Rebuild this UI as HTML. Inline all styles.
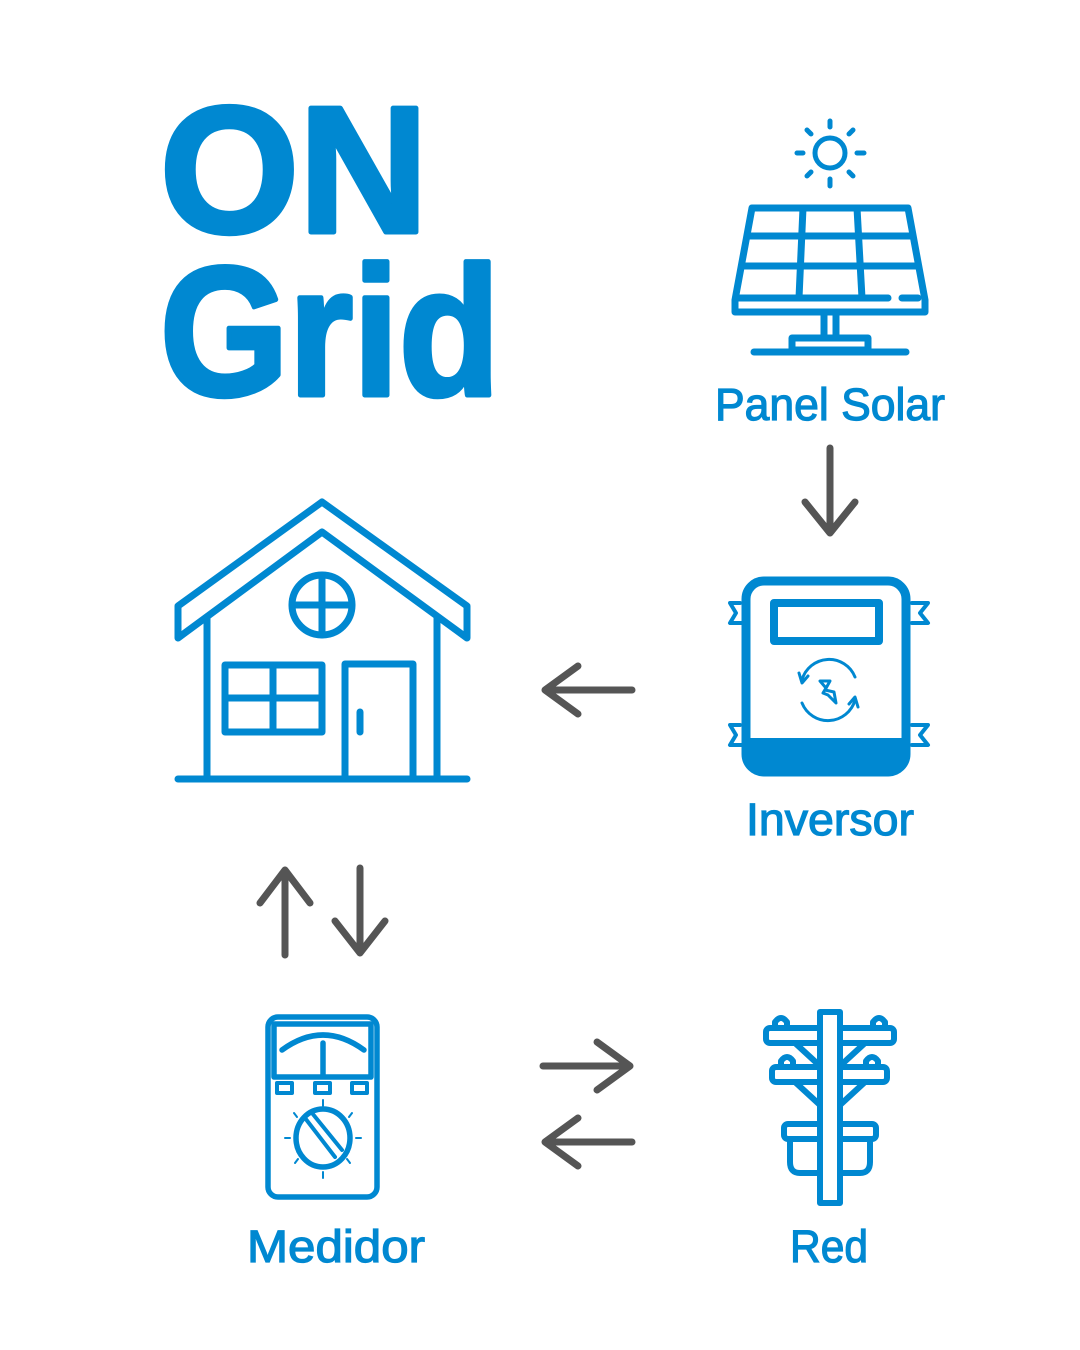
<!DOCTYPE html>
<html><head><style>body{margin:0;background:#fff}svg{display:block}</style></head><body>
<svg width="1080" height="1350" viewBox="0 0 1080 1350" xmlns="http://www.w3.org/2000/svg">
<g font-family="Liberation Sans, sans-serif" font-weight="bold" fill="#0088d1">
<g stroke="#0088d1" stroke-width="5" stroke-linejoin="round">
<text x="160" y="232" font-size="180" textLength="268" lengthAdjust="spacingAndGlyphs">ON</text>
<text x="160" y="395" font-size="184" textLength="340" lengthAdjust="spacingAndGlyphs">Grid</text>
</g>
<g font-weight="normal" font-size="45" stroke="#0088d1" stroke-width="1.2">
<text x="830" y="420" text-anchor="middle" textLength="230" lengthAdjust="spacingAndGlyphs">Panel Solar</text>
<text x="830" y="835" text-anchor="middle" textLength="168" lengthAdjust="spacingAndGlyphs">Inversor</text>
<text x="336" y="1262" text-anchor="middle" textLength="178" lengthAdjust="spacingAndGlyphs">Medidor</text>
<text x="829" y="1262" text-anchor="middle" textLength="78" lengthAdjust="spacingAndGlyphs">Red</text>
</g></g>
<g fill="none" stroke="#555" stroke-width="7" stroke-linecap="round" stroke-linejoin="round">
<path d="M830 448V533M805 502L830 533L855 502"/>
<path d="M632 690H545M578 666L545 690L578 714"/>
<path d="M285 955V870M260 903L285 870L310 903"/>
<path d="M360 868V953M335 921L360 953L385 921"/>
<path d="M543 1066H630M597 1042L630 1066L597 1090"/>
<path d="M632 1142H545M578 1118L545 1142L578 1166"/>
</g>
<g fill="none" stroke="#0088d1" stroke-linecap="round" stroke-linejoin="round">
<g stroke-width="7">
<path d="M178 606L322 502L467 606V638L322 532L178 638Z"/>
<path d="M207 617V778M437 617V778M178 779H467"/>
<circle cx="322" cy="605" r="30"/><path d="M322 575V635M292 605H352"/>
<rect x="225" y="665" width="97" height="67"/><path d="M273 665V732M225 698H322"/>
<path d="M345 778V664H413V778"/><path d="M360 712V732" stroke-width="7"/>
</g>
<g stroke-width="5">
<circle cx="830" cy="153" r="15"/>
<path d="M830 121V127M830 179V186M797 153H803M857 153H864M807 130L811 134M849 172L853 176M853 130L849 134M811 172L807 176"/>
</g>
<g stroke-width="7">
<path d="M752 208H908L925 300V312H735V300Z"/>
<path d="M738 298H888M902 298H918"/>
<path d="M748 236H912M743 266H917M803 208L799 298M857 208L862 298"/>
<path d="M824 312V338M836 312V338"/>
<rect x="792" y="338" width="76" height="12"/>
<path d="M754 352H906"/>
</g>
<rect x="746" y="581" width="160" height="191" rx="18" stroke-width="9"/>
<path d="M746 740H906V755Q906 772 888 772H764Q746 772 746 755Z" fill="#0088d1" stroke-width="4"/>
<rect x="774" y="603" width="105" height="38" stroke-width="8"/>
<path d="M740 603L730 603L736 613L730 623L742 623M912 603L928 603L920 613L928 623L912 623M740 725L730 725L736 735L730 745L742 745M912 725L928 725L920 735L928 745L912 745" stroke-width="4"/>
<g stroke-width="3"><path d="M802 680A28 28 0 0 1 855 677M855 700A28 28 0 0 1 802 703"/>
<path d="M799 673L802 683L808 676M858 707L855 697L849 704"/>
<path d="M820 681H830L825 690L834 692L836 703L828 695L823 693L826 688Z"/></g>
<g stroke-width="5.5">
<rect x="268" y="1017" width="109" height="180" rx="10"/>
<rect x="274" y="1024" width="97" height="53"/>
<path d="M282 1050Q323 1020 364 1050M323 1043V1075"/>
<rect x="277" y="1083" width="15" height="10" stroke-width="4"/><rect x="315" y="1083" width="15" height="10" stroke-width="4"/><rect x="352" y="1083" width="15" height="10" stroke-width="4"/>
<ellipse cx="323" cy="1138" rx="27" ry="29"/>
<path d="M305 1118L335 1157M312 1113L342 1150" stroke-width="4"/>
<path d="M323 1100V1106M323 1172V1178M285 1138H290M356 1138H361M294 1113L297 1117M352 1113L349 1117M295 1163L298 1159M350 1163L347 1159" stroke-width="2"/>
</g>
<g stroke-width="6">
<path d="M775 1028V1022Q781 1014 787 1022V1028M873 1028V1022Q879 1014 885 1022V1028M781 1067V1061Q787 1053 793 1061V1067M866 1067V1061Q872 1053 878 1061V1067"/>
<path d="M795 1043L820 1066M865 1043L840 1066M795 1082L820 1105M865 1082L840 1105"/>
<rect x="766" y="1028" width="128" height="15" rx="4" fill="#fff"/>
<rect x="772" y="1067" width="115" height="15" rx="4" fill="#fff"/>
<rect x="784" y="1124" width="92" height="15" rx="4" fill="#fff"/>
<path d="M790 1139V1162Q790 1173 800 1173H860Q870 1173 870 1162V1139"/>
<path d="M820 1203V1012H840V1203Z" fill="#fff"/>
</g>
</g>
</svg>
</body></html>
